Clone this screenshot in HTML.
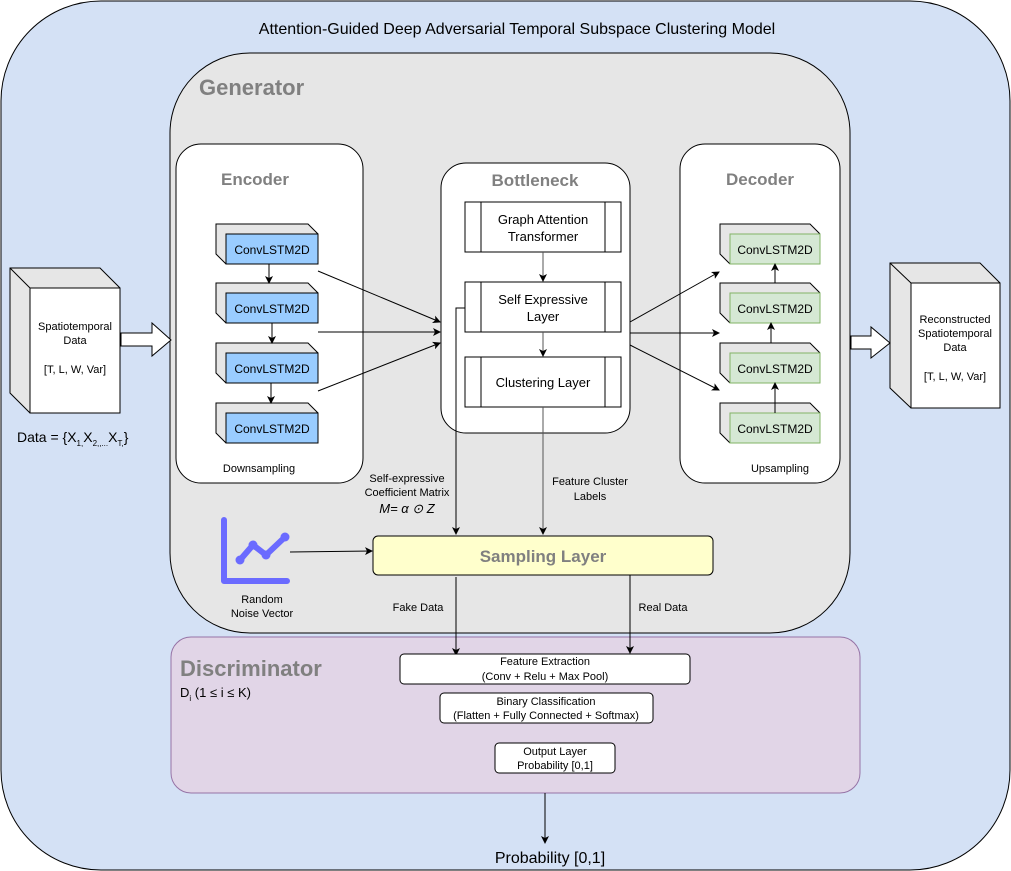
<!DOCTYPE html>
<html><head><meta charset="utf-8"><style>
html,body{margin:0;padding:0;background:#fff;}
svg{display:block;font-family:"Liberation Sans",Arial,sans-serif;}
</style></head><body>
<svg width="1011" height="871" viewBox="0 0 1011 871" xmlns="http://www.w3.org/2000/svg">
<defs>
<marker id="a" markerWidth="8" markerHeight="8" refX="7" refY="4" orient="auto" markerUnits="userSpaceOnUse"><path d="M0,0 L8,4 L0,8 L2,4 z" fill="#000"/></marker>
<g id="cb"><path d="M0,0 H92 L102,10 V50 H10 L0,40 Z" fill="#e6e6e6" stroke="#000"/><path d="M0,0 L10,10 H102" fill="none" stroke="#000"/></g>
</defs>
<rect x="1" y="1" width="1009" height="869" rx="100" fill="#d4e1f5" stroke="#000"/>
<text x="517" y="34" font-size="16" text-anchor="middle">Attention-Guided Deep Adversarial Temporal Subspace Clustering Model</text>
<rect x="170" y="53" width="680" height="580" rx="80" fill="#e6e6e6" stroke="#000"/>
<text x="199" y="95" font-size="22" font-weight="bold" fill="#808080">Generator</text>

<!-- Encoder -->
<rect x="176" y="144" width="187" height="339" rx="25" fill="#fff" stroke="#000"/>
<text x="255" y="185" font-size="17" font-weight="bold" fill="#808080" text-anchor="middle">Encoder</text>
<g font-size="12" text-anchor="middle">
<g transform="translate(216,224)"><path d="M0,0 H92 L102,10 V40 L92,40 H10 L0,30 Z" fill="#e6e6e6" stroke="#000"/><rect x="10" y="10" width="92" height="30" fill="#99ccff" stroke="#000"/><text x="56" y="30">ConvLSTM2D</text></g>
<g transform="translate(216,283)"><path d="M0,0 H92 L102,10 V40 L92,40 H10 L0,30 Z" fill="#e6e6e6" stroke="#000"/><rect x="10" y="10" width="92" height="30" fill="#99ccff" stroke="#000"/><text x="56" y="30">ConvLSTM2D</text></g>
<g transform="translate(216,343)"><path d="M0,0 H92 L102,10 V40 L92,40 H10 L0,30 Z" fill="#e6e6e6" stroke="#000"/><rect x="10" y="10" width="92" height="30" fill="#99ccff" stroke="#000"/><text x="56" y="30">ConvLSTM2D</text></g>
<g transform="translate(216,403)"><path d="M0,0 H92 L102,10 V40 L92,40 H10 L0,30 Z" fill="#e6e6e6" stroke="#000"/><rect x="10" y="10" width="92" height="30" fill="#99ccff" stroke="#000"/><text x="56" y="30">ConvLSTM2D</text></g>
</g>
<g stroke="#000" marker-end="url(#a)">
<line x1="269" y1="264" x2="269" y2="283"/><line x1="272" y1="323" x2="272" y2="343"/><line x1="271" y1="383" x2="271" y2="403"/>
</g>
<text x="259" y="472" font-size="11" text-anchor="middle">Downsampling</text>

<!-- Bottleneck -->
<rect x="441" y="163" width="189" height="270" rx="25" fill="#fff" stroke="#000"/>
<text x="535" y="186" font-size="17" font-weight="bold" fill="#808080" text-anchor="middle">Bottleneck</text>
<g fill="#fff" stroke="#000">
<rect x="465" y="202" width="156" height="50"/><line x1="481" y1="202" x2="481" y2="252"/><line x1="605" y1="202" x2="605" y2="252"/>
<rect x="465" y="282" width="156" height="50"/><line x1="481" y1="282" x2="481" y2="332"/><line x1="605" y1="282" x2="605" y2="332"/>
<rect x="465" y="357" width="156" height="50"/><line x1="481" y1="357" x2="481" y2="407"/><line x1="605" y1="357" x2="605" y2="407"/>
</g>
<g font-size="13" text-anchor="middle">
<text x="543" y="224">Graph Attention</text><text x="543" y="241">Transformer</text>
<text x="543" y="304">Self Expressive</text><text x="543" y="321">Layer</text>
<text x="543" y="387">Clustering Layer</text>
</g>
<g stroke="#555" marker-end="url(#a)"><line x1="543" y1="252" x2="543" y2="281"/><line x1="543" y1="332" x2="543" y2="356"/></g>

<!-- Decoder -->
<rect x="680" y="144" width="160" height="339" rx="25" fill="#fff" stroke="#000"/>
<text x="760" y="185" font-size="17" font-weight="bold" fill="#808080" text-anchor="middle">Decoder</text>
<g font-size="12" text-anchor="middle">
<g transform="translate(720,224)"><path d="M0,0 H90 L100,10 V40 L90,40 H10 L0,30 Z" fill="#e6e6e6" stroke="#000"/><rect x="10" y="10" width="90" height="30" fill="#d5e8d4" stroke="#82b366"/><text x="55" y="30">ConvLSTM2D</text></g>
<g transform="translate(720,283)"><path d="M0,0 H90 L100,10 V40 L90,40 H10 L0,30 Z" fill="#e6e6e6" stroke="#000"/><rect x="10" y="10" width="90" height="30" fill="#d5e8d4" stroke="#82b366"/><text x="55" y="30">ConvLSTM2D</text></g>
<g transform="translate(720,343)"><path d="M0,0 H90 L100,10 V40 L90,40 H10 L0,30 Z" fill="#e6e6e6" stroke="#000"/><rect x="10" y="10" width="90" height="30" fill="#d5e8d4" stroke="#82b366"/><text x="55" y="30">ConvLSTM2D</text></g>
<g transform="translate(720,403)"><path d="M0,0 H90 L100,10 V40 L90,40 H10 L0,30 Z" fill="#e6e6e6" stroke="#000"/><rect x="10" y="10" width="90" height="30" fill="#d5e8d4" stroke="#82b366"/><text x="55" y="30">ConvLSTM2D</text></g>
</g>
<g stroke="#000" marker-end="url(#a)">
<line x1="775" y1="283" x2="775" y2="264"/><line x1="771" y1="343" x2="771" y2="323"/><line x1="775" y1="413" x2="775" y2="383"/>
</g>
<text x="780" y="472" font-size="11" text-anchor="middle">Upsampling</text>

<!-- enc -> bottleneck, bottleneck -> dec -->
<g stroke="#000" marker-end="url(#a)">
<line x1="318" y1="271" x2="440" y2="322"/><line x1="318" y1="332" x2="440" y2="332"/><line x1="318" y1="391" x2="440" y2="343"/>
<line x1="630" y1="322" x2="719" y2="272"/><line x1="630" y1="333" x2="719" y2="333"/><line x1="630" y1="345" x2="719" y2="390"/>
</g>

<!-- input cube -->
<path d="M10,268 H100 L120,288 V413 H30 L10,393 Z" fill="#e6e6e6" stroke="#000"/>
<rect x="30" y="288" width="90" height="125" fill="#fff" stroke="#000"/><line x1="10" y1="268" x2="30" y2="288" stroke="#000"/>
<g font-size="11" text-anchor="middle"><text x="75" y="330">Spatiotemporal</text><text x="75" y="344">Data</text><text x="75" y="373">[T, L, W, Var]</text></g>
<text x="17" y="442" font-size="14">Data = {X<tspan font-size="8" dy="4">1,</tspan><tspan dy="-4">X</tspan><tspan font-size="8" dy="4">2,,...</tspan><tspan dy="-4">X</tspan><tspan font-size="8" dy="4">T,</tspan><tspan dy="-4">}</tspan></text>
<path d="M121,333 H152 V323 L171,340 L152,356 V346 H121 Z" fill="#fff" stroke="#000"/>

<!-- output cube -->
<path d="M890,263 H980 L1000,283 V408 H911 L890,388 Z" fill="#e6e6e6" stroke="#000"/>
<rect x="911" y="283" width="89" height="125" fill="#fff" stroke="#000"/><line x1="890" y1="263" x2="911" y2="283" stroke="#000"/>
<g font-size="11" text-anchor="middle"><text x="955" y="323">Reconstructed</text><text x="955" y="337">Spatiotemporal</text><text x="955" y="351">Data</text><text x="955" y="380">[T, L, W, Var]</text></g>
<path d="M851,336 H871 V327 L890,343 L871,358 V349 H851 Z" fill="#fff" stroke="#000"/>

<!-- to sampling -->
<path d="M465,308 H456 V534" fill="none" stroke="#000" marker-end="url(#a)"/>
<line x1="543" y1="407" x2="543" y2="534" stroke="#555" marker-end="url(#a)"/>
<g font-size="11" text-anchor="middle">
<text x="407" y="482">Self-expressive</text><text x="407" y="496">Coefficient Matrix</text>
<text x="407" y="513" font-size="13" font-style="italic">M= α ⊙ Z</text>
<text x="590" y="485">Feature Cluster</text><text x="590" y="500">Labels</text>
</g>
<rect x="373" y="536" width="340" height="39" rx="5" fill="#ffffcc" stroke="#000"/>
<text x="543" y="562" font-size="17" font-weight="bold" fill="#808080" text-anchor="middle">Sampling Layer</text>

<!-- noise icon -->
<g stroke="#6b6bff" stroke-width="6" stroke-linecap="round" stroke-linejoin="round" fill="none">
<path d="M224,520 V581 H287"/><path d="M240,560 L253,545 L266,555 L285,537"/>
</g>
<g fill="#6b6bff"><circle cx="240" cy="560" r="4.5"/><circle cx="253" cy="545" r="4.5"/><circle cx="266" cy="555" r="4.5"/><circle cx="285" cy="537" r="4.5"/></g>
<g font-size="11" text-anchor="middle"><text x="262" y="603">Random</text><text x="262" y="617">Noise Vector</text></g>
<line x1="290" y1="552" x2="372" y2="551" stroke="#000" marker-end="url(#a)"/>

<!-- Discriminator -->
<rect x="171" y="637" width="689" height="156" rx="20" fill="#e1d5e7" stroke="#9673a6"/>
<text x="180" y="676" font-size="22" font-weight="bold" fill="#808080">Discriminator</text>
<text x="180" y="697" font-size="13">D<tspan font-size="8" dy="4">i</tspan><tspan dy="-4"> (1 ≤ i ≤ K)</tspan></text>
<g stroke="#000" marker-end="url(#a)">
<line x1="456" y1="577" x2="456" y2="655"/><line x1="630" y1="575" x2="630" y2="653"/>
</g>
<g font-size="11" text-anchor="middle"><text x="418" y="611">Fake Data</text><text x="663" y="611">Real Data</text></g>
<rect x="400" y="654" width="290" height="30" rx="4" fill="#fff" stroke="#000"/>
<rect x="440" y="693" width="213" height="30" rx="4" fill="#fff" stroke="#000"/>
<rect x="495" y="743" width="120" height="30" rx="4" fill="#fff" stroke="#000"/>
<g font-size="11" text-anchor="middle">
<text x="545" y="665">Feature Extraction</text><text x="545" y="680">(Conv + Relu + Max Pool)</text>
<text x="546" y="705">Binary Classification</text><text x="546" y="719">(Flatten + Fully Connected + Softmax)</text>
<text x="555" y="755">Output Layer</text><text x="555" y="769">Probability [0,1]</text>
</g>
<line x1="545" y1="793" x2="545" y2="843" stroke="#000" marker-end="url(#a)"/>
<text x="550" y="863" font-size="16" text-anchor="middle">Probability [0,1]</text>
</svg>
</body></html>
